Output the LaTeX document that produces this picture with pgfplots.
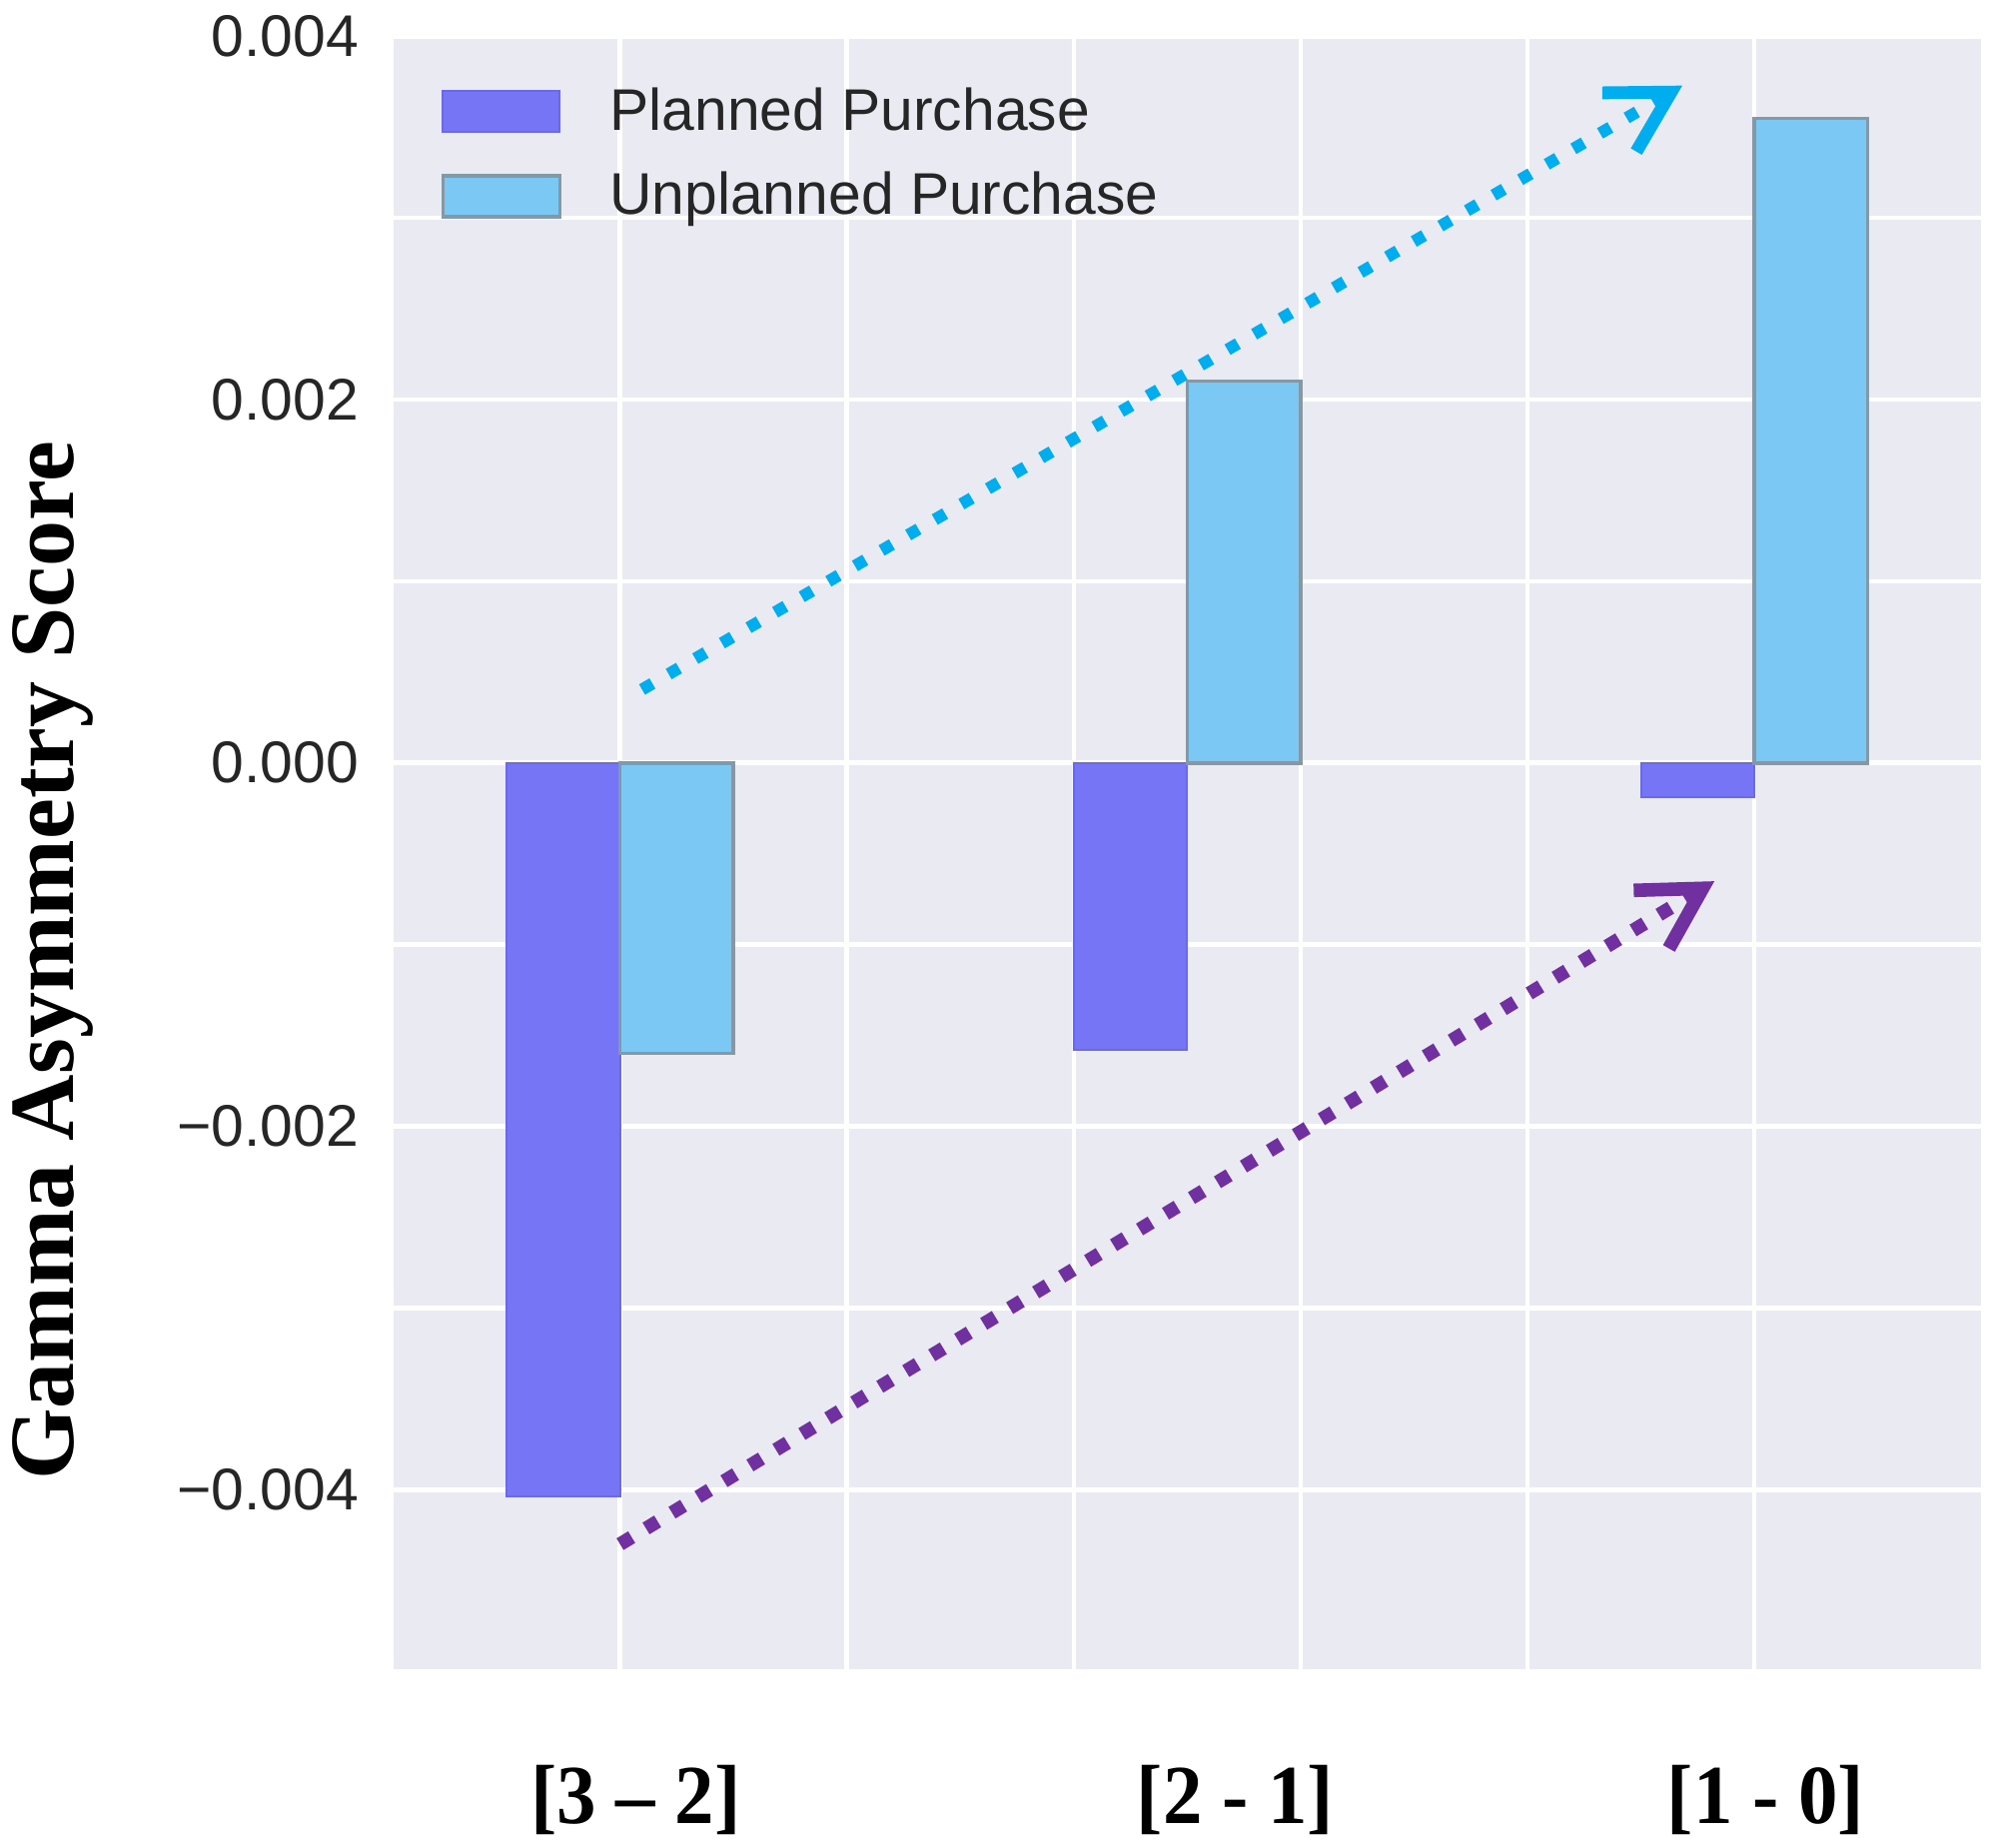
\documentclass[border=0pt]{standalone}
\usepackage{fontspec}
\setmainfont{Liberation Sans}
\newfontfamily\timesfont{Liberation Serif}
\usepackage{pgfplots}
\pgfplotsset{compat=1.18}
\usetikzlibrary{arrows.meta}
\definecolor{bgc}{HTML}{EAEAF2}
\definecolor{planned}{HTML}{7575F6}
\definecolor{plannededge}{HTML}{6A6AE6}
\definecolor{unplanned}{HTML}{7CC8F4}
\definecolor{unplannededge}{HTML}{8499A8}
\definecolor{arrcyan}{HTML}{00AEEF}
\definecolor{arrpurple}{HTML}{7030A0}
\definecolor{txt}{HTML}{262626}
\pgfplotsset{mylegend/.style={legend image code/.code={\draw[##1] (0pt,-5.1pt) rectangle (29.25pt,5.1pt); \path (39.3pt,0pt);}}}
\newcommand{\xl}[1]{\scalebox{0.94}[1]{#1}}
\begin{document}
\begin{tikzpicture}
\useasboundingbox (0,0) rectangle (498.75pt,462.5pt);
\begin{axis}[
  at={(98.4pt,44.2pt)}, anchor=south west,
  scale only axis, width=397.4pt, height=409.25pt,
  xmin=-0.4, xmax=2.4, ymin=-0.005, ymax=0.004,
  axis background/.style={fill=bgc},
  axis line style={draw=none},
  major tick length=0pt, minor tick length=0pt,
  scaled y ticks=false, scaled x ticks=false,
  xtick={0,0.4,0.8,1.2,1.6,2.0}, xticklabels={},
  extra x ticks={0.028,1.085,2.02},
  extra x tick labels={{\xl{[3 – 2]}},{\xl{[2 - 1]}},{\xl{[1 - 0]}}},
  extra x tick style={grid=none, tick label style={font=\timesfont\bfseries\fontsize{21}{24}\selectfont, text=black, yshift=-20pt}},
  ytick={-0.004,-0.002,0,0.002,0.004},
  yticklabels={−0.004,−0.002,0.000,0.002,0.004},
  minor ytick={-0.005,-0.003,-0.001,0.001,0.003},
  yticklabel style={font=\fontsize{14.7}{17}\selectfont, text=txt, inner sep=0pt, xshift=-8.5pt},
  grid=both,
  major grid style={white, line width=1.15pt},
  minor grid style={white, line width=1.15pt},
  ylabel={Gamma Asymmetry Score},
  ylabel style={font=\timesfont\bfseries\fontsize{23}{26}\selectfont, text=black, at={(axis description cs:-0.2145,0.4347)}, anchor=center},
  legend style={at={(axis description cs:0.0297,0.974)}, anchor=north west, draw=none, fill=none,
    font=\fontsize{14.7}{17}\selectfont, text=txt, inner sep=0pt, row sep=5pt},
  legend cell align=left,
]
\addplot[ybar, bar width=0.2, bar shift=-0.1, fill=planned, draw=plannededge, line width=0.5pt, mylegend]
  coordinates {(0,-0.004036) (1,-0.001581) (2,-0.00019)};
\addlegendentry{Planned Purchase}
\addplot[ybar, bar width=0.2, bar shift=0.1, fill=unplanned, draw=unplannededge, line width=0.9pt, mylegend]
  coordinates {(0,-0.001599) (1,0.002102) (2,0.003547)};
\addlegendentry{Unplanned Purchase}
\addplot[arrcyan, line width=3.0pt, dash pattern=on 3.0pt off 4.7pt, line cap=butt,
  -{Straight Barb[length=15pt,width=17pt,line width=3.2pt]}, forget plot]
  coordinates {(0.0388,0.000404) (1.873,0.003728)};
\addplot[arrpurple, line width=3.4pt, dash pattern=on 3.4pt off 4.2pt, line cap=butt,
  -{Straight Barb[length=15pt,width=17pt,line width=3.4pt]}, forget plot]
  coordinates {(0.0,-0.0043) (1.9295,-0.000651)};
\end{axis}
\end{tikzpicture}
\end{document}
